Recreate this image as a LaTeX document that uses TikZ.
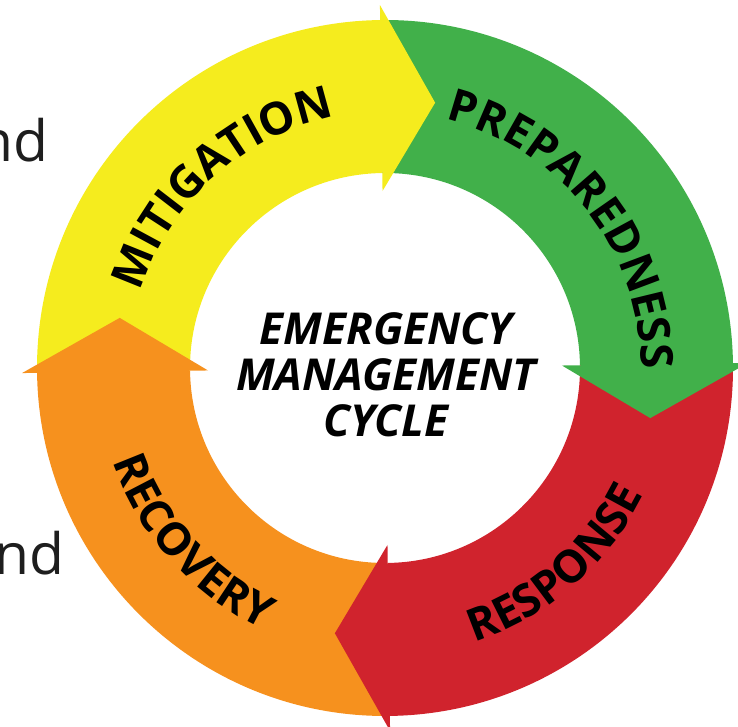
\documentclass[tikz,border=0pt]{standalone}
\usepackage{fontspec}
\setmainfont{Open Sans}
\usepackage{tikz}
\usetikzlibrary{decorations.text}
\definecolor{mitig}{RGB}{245,236,30}
\definecolor{prep}{RGB}{65,176,74}
\definecolor{resp}{RGB}{208,35,45}
\definecolor{recov}{RGB}{246,145,30}
\definecolor{sidetext}{RGB}{30,30,30}
\newcommand{\ringin}{195pt}
\newcommand{\ringout}{348pt}
\newcommand{\ringfont}{\fontsize{45}{48}\selectfont\bfseries}
% one quarter of the ring, clockwise from #1 to #2
\newcommand{\ringpiece}[3]{\fill[#3] (#1:\ringout) arc[start angle=#1,end angle=#2,radius=\ringout] -- (#2:\ringin) arc[start angle=#2,end angle=#1,radius=\ringin] -- cycle;}
% arrow head sitting on the end of a piece (with a small overlap back into it)
\newcommand{\ringhead}[2]{\fill[#2] ({#1+1}:196pt) -- (#1:196pt) -- (#1:177pt) -- ({#1-11.5}:270pt) -- (#1:363pt) -- (#1:347pt) -- ({#1+1}:347pt) -- cycle;}

\begin{document}
\begin{tikzpicture}[x=1pt,y=1pt]
					\useasboundingbox (0,0) rectangle (738,727);
					\clip (0,0) rectangle (738,727);
					\begin{scope}[shift={(385,359)}]
						\ringpiece{180.8}{90.8}{mitig}
						\ringpiece{90.8}{0.8}{prep}
						\ringpiece{0.8}{-89.2}{resp}
						\ringpiece{-89.2}{-179.2}{recov}
						\ringhead{90.8}{mitig}
						\ringhead{0.8}{prep}
						\ringhead{-89.2}{resp}
						\ringhead{180.8}{recov}
						% labels along the ring
						\path[decorate,decoration={text along path,text align=center,text={|\ringfont|MITIGATION}}]
							(177:256pt) arc[start angle=177,end angle=87,radius=256pt];
						\path[decorate,decoration={text along path,text align=center,text={|\ringfont|PREPAREDNESS}}]
							(83:256pt) arc[start angle=83,end angle=-7,radius=256pt];
						\path[decorate,decoration={text along path,text align=center,text={|\ringfont|RESPONSE}}]
							(-94:288pt) arc[start angle=-94,end angle=-4,radius=288pt];
						\path[decorate,decoration={text along path,text align=center,text={|\ringfont|RECOVERY}}]
							(177:288pt) arc[start angle=177,end angle=267,radius=288pt];
					\end{scope}
					\node[align=center,font=\fontsize{44}{46}\selectfont\bfseries\itshape] (title) at (386,352) {EMERGENCY\\MANAGEMENT\\CYCLE};
					\node[anchor=base east,text=sidetext,font=\fontsize{57}{60}\selectfont,inner sep=0pt] (nd1) at (49,565) {nd};
					\node[anchor=base east,text=sidetext,font=\fontsize{57}{60}\selectfont,inner sep=0pt] (nd2) at (65,152) {nd};
				\end{tikzpicture}
\end{document}
